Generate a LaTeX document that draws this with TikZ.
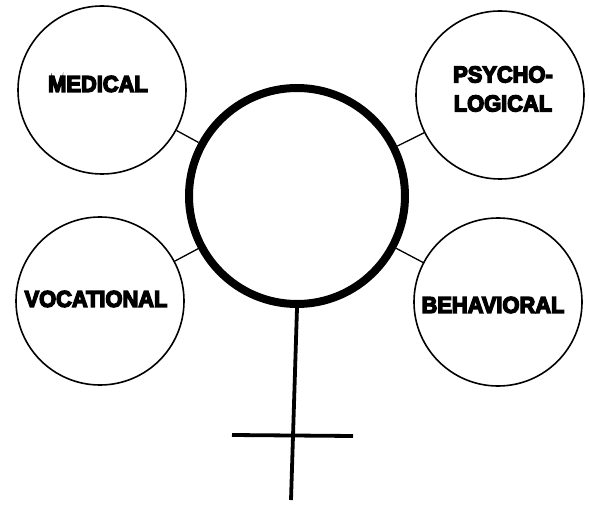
\documentclass[tikz,border=0pt]{standalone}
\usepackage{fontspec}
\newfontfamily\heavy{Liberation Sans}[BoldFont={Liberation Sans Bold},BoldFeatures={FakeBold=6,FakeStretch=0.95}]
\begin{document}
\begin{tikzpicture}[x=1pt,y=-1pt,
  small/.style={circle,draw,line width=1.6pt,inner sep=0pt,minimum size=168pt},
  big/.style={circle,draw,line width=8pt,inner sep=0pt,minimum size=216pt},
  lab/.style={font=\heavy\bfseries\fontsize{23}{29}\selectfont,align=center,inner sep=0pt},
  link/.style={line width=1.3pt},
  bar/.style={line width=3.8pt}]
\useasboundingbox (0,0) rectangle (589,505);
\node[big] (ctr) at (297,196) {};
\node[small] (med) at (102,90) {};
\node[small] (psy) at (500,95) {};
\node[small] (voc) at (100,301) {};
\node[small] (beh) at (498,302) {};
\node[lab] (medt) at (98,84) {MEDICAL};
\node[lab] (psyt) at (503,89) {PSYCHO-\\LOGICAL};
\node[lab] (voct) at (96,299) {VOCATIONAL};
\node[lab] (beht) at (493,305) {BEHAVIORAL};
\draw[link] (med) -- (ctr);
\draw[link] (psy) -- (ctr);
\draw[link] (voc) -- (ctr);
\draw[link] (beh) -- (ctr);
\coordinate (stemend) at (291,500);
\coordinate (barl) at (232,435);
\coordinate (barr) at (353,436);
\draw[bar] (ctr.south) -- (stemend);
\draw[bar] (barl) -- (barr);
\end{tikzpicture}
\end{document}
